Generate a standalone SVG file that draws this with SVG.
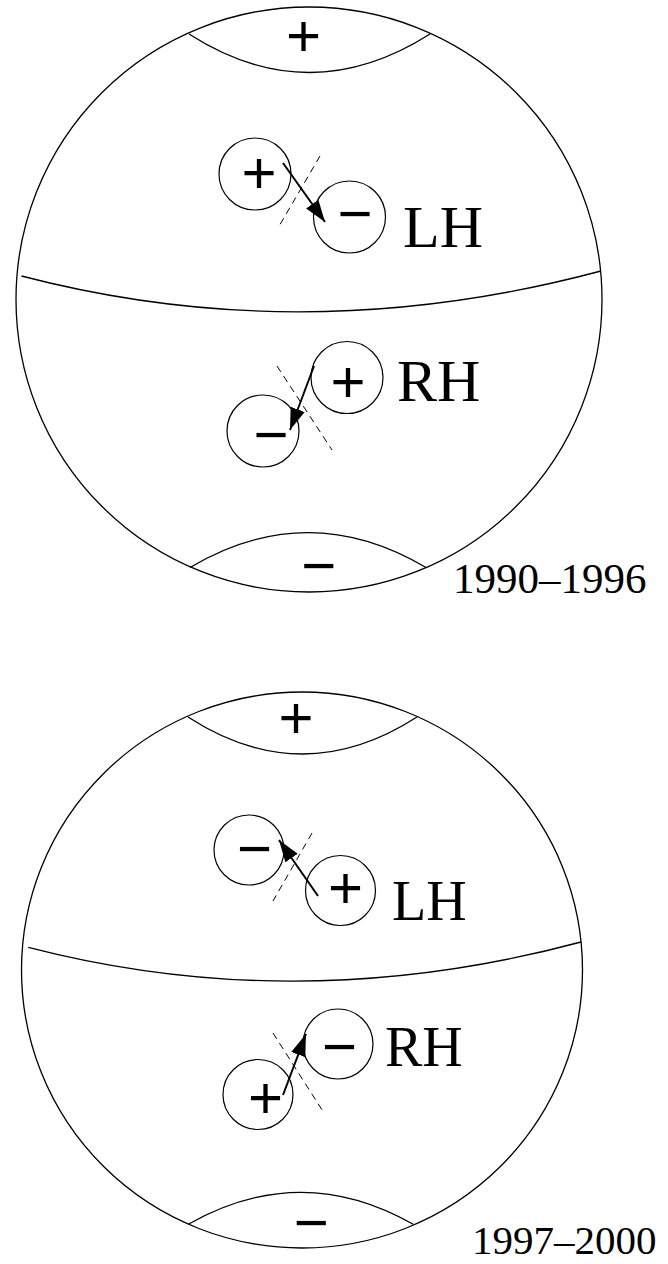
<svg xmlns="http://www.w3.org/2000/svg" width="668" height="1264" viewBox="0 0 668 1264">
<style>
.ln{fill:none;stroke:#000;stroke-width:1.3}
.sc{fill:#fff;stroke:#000;stroke-width:1.2}
.dash{fill:none;stroke:#000;stroke-width:1;stroke-dasharray:7 5}
.arr{fill:none;stroke:#000;stroke-width:2;marker-end:url(#ah)}
.sign{font-family:"Liberation Sans",Arial,sans-serif;font-size:60px;text-anchor:middle;fill:#000}
.lbl{font-family:"Liberation Serif","Times New Roman",serif;fill:#000}
</style>
<defs>
<marker id="ah" viewBox="0 0 22 15" refX="22" refY="7.5" markerWidth="22" markerHeight="15" markerUnits="userSpaceOnUse" orient="auto">
<path d="M0,0 L22,7.5 L0,15 z" fill="#000"/>
</marker>
</defs>
<g id="globe1">
<ellipse class="ln" cx="309" cy="299.5" rx="293" ry="292.5"/>
<path class="ln" d="M189,34 Q309,111 430,34"/>
<path class="ln" d="M21.5,276 Q305,350 601,271"/>
<path class="ln" d="M190,567.5 Q308,497.7 426,567.5"/>
<text class="sign" x="303.5" y="55.7">+</text>
<text class="sign" x="318.7" y="586.2">−</text>
<text class="lbl" x="453" y="593" font-size="43">1990–1996</text>
</g>
<g id="globe2">
<ellipse class="ln" cx="302" cy="970" rx="280.5" ry="278"/>
<path class="ln" d="M188,717 Q302,791 417,717"/>
<path class="ln" d="M28.3,947.3 Q300,1017.5 581,942"/>
<path class="ln" d="M188.3,1224.3 Q301,1160.3 413.3,1224.3"/>
<text class="sign" x="296" y="738.2">+</text>
<text class="sign" x="311.2" y="1243.2">−</text>
<text class="lbl" x="472" y="1254" font-size="41">1997–2000</text>
</g>
<g id="dividers">
<line class="dash" x1="320" y1="156" x2="278" y2="228"/>
<line class="dash" x1="277" y1="366" x2="332" y2="450"/>
<line class="dash" x1="312" y1="833" x2="273" y2="901"/>
<line class="dash" x1="273" y1="1033" x2="324" y2="1113"/>
</g>
<g id="spot-lh1-pos"><circle class="sc" cx="255" cy="174" r="36"/><text class="sign" x="259" y="193.2">+</text></g>
<g id="spot-lh1-neg"><circle class="sc" cx="349.5" cy="217" r="36"/><text class="sign" x="355" y="234.2">−</text></g>
<g id="label-lh1"><text class="lbl" x="403" y="247" font-size="60">LH</text></g>
<g id="spot-rh1-pos"><circle class="sc" cx="347" cy="377.5" r="36"/><text class="sign" x="348" y="402.2">+</text></g>
<g id="spot-rh1-neg"><circle class="sc" cx="263" cy="431" r="36"/><text class="sign" x="271" y="455.2">−</text></g>
<g id="label-rh1"><text class="lbl" x="397" y="401" font-size="60">RH</text></g>
<g id="spot-lh2-neg"><circle class="sc" cx="249" cy="850" r="35"/><text class="sign" x="254.5" y="869.2">−</text></g>
<g id="spot-lh2-pos"><circle class="sc" cx="340.5" cy="890.5" r="35"/><text class="sign" x="345.5" y="908.2">+</text></g>
<g id="label-lh2"><text class="lbl" x="392" y="920" font-size="56">LH</text></g>
<g id="spot-rh2-neg"><circle class="sc" cx="338" cy="1044" r="35"/><text class="sign" x="339.5" y="1067.2">−</text></g>
<g id="spot-rh2-pos"><circle class="sc" cx="258" cy="1094.5" r="35"/><text class="sign" x="265.5" y="1118.2">+</text></g>
<g id="label-rh2"><text class="lbl" x="385" y="1066" font-size="56">RH</text></g>
<g id="connectors">
<line class="arr" x1="283" y1="163" x2="325" y2="222"/>
<line class="arr" x1="314" y1="366" x2="290" y2="430"/>
<line class="arr" x1="318" y1="896" x2="279" y2="840"/>
<line class="arr" x1="283" y1="1095" x2="306" y2="1034"/>
</g>
</svg>
